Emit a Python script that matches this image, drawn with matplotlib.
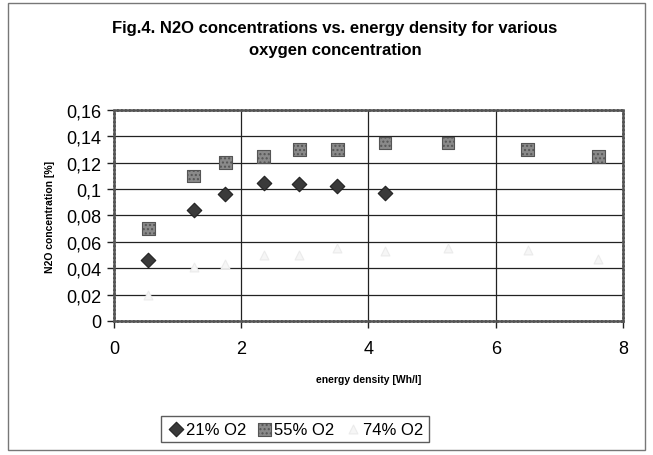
import matplotlib.pyplot as plt
from matplotlib.patches import Rectangle
from matplotlib.ticker import FuncFormatter

# Data
energy = [0.54, 1.25, 1.75, 2.35, 2.91, 3.51, 4.26, 5.25, 6.5, 7.61]
o2_21 = [0.046, 0.084, 0.096, 0.105, 0.104, 0.102, 0.097]
o2_55 = [0.070, 0.110, 0.120, 0.125, 0.130, 0.130, 0.135, 0.135, 0.130, 0.125]
o2_74 = [0.020, 0.041, 0.043, 0.050, 0.050, 0.055, 0.053, 0.055, 0.054, 0.047]
labels = ['21% O2', '55% O2', '74% O2']

plt.rcParams['font.family'] = ['Liberation Sans', 'DejaVu Sans']

fig = plt.figure(figsize=(6.53, 4.56), dpi=100)
ax = fig.add_axes([0.1746, 0.2939, 0.7794, 0.4627])

ax.scatter(energy[:len(o2_21)], o2_21, marker='D', s=55, color='#3a3a3a',
           edgecolors='#222222', linewidths=0.8, label=labels[0], zorder=3)
ax.scatter(energy, o2_55, marker='s', s=85, color='#8a8a8a',
           edgecolors='#555555', linewidths=0.8, hatch='....', label=labels[1], zorder=3)
ax.scatter(energy, o2_74, marker='^', s=40, color='#f6f6f6',
           edgecolors='#ebebeb', linewidths=0.8, label=labels[2], zorder=3)

ax.set_xlim(0, 8)
ax.set_ylim(0, 0.16)
ax.set_xticks([0, 2, 4, 6, 8])
ax.set_yticks([0, 0.02, 0.04, 0.06, 0.08, 0.1, 0.12, 0.14, 0.16])
ax.yaxis.set_major_formatter(FuncFormatter(lambda v, p: f'{v:g}'.replace('.', ',')))
ax.tick_params(labelsize=13, direction='out', length=5, width=1, color='#222222')
ax.tick_params(axis='x', pad=9)
ax.tick_params(axis='y', pad=4)

ax.grid(True, color='#222222', linewidth=0.9)
ax.set_axisbelow(True)
for s in ax.spines.values():
    s.set_color('#555555')
    s.set_linewidth(1.8)
    s.set_linestyle((0, (1, 0.6)))

ax.set_xlabel('energy density [Wh/l]', fontsize=7.5, fontweight='bold', labelpad=12)
ax.set_ylabel('N2O concentration [%]', fontsize=7.5, fontweight='bold', labelpad=8)

fig.text(0.513, 0.914, 'Fig.4. N2O concentrations vs. energy density for various\noxygen concentration',
         ha='center', va='center', fontsize=12.0, fontweight='bold', linespacing=1.6)

fig.legend(loc='center', bbox_to_anchor=(0.452, 0.057), ncol=3, fontsize=12,
           frameon=True, fancybox=False, edgecolor='#333333', handletextpad=0.1,
           columnspacing=0.6, handlelength=1.0, borderpad=0.35, borderaxespad=0)

# Outer chart border
fig.patches.append(Rectangle((0.012, 0.01), 0.976, 0.982, transform=fig.transFigure,
                             fill=False, edgecolor='#777777', linewidth=1.0))

plt.savefig('out.png', dpi=100)
